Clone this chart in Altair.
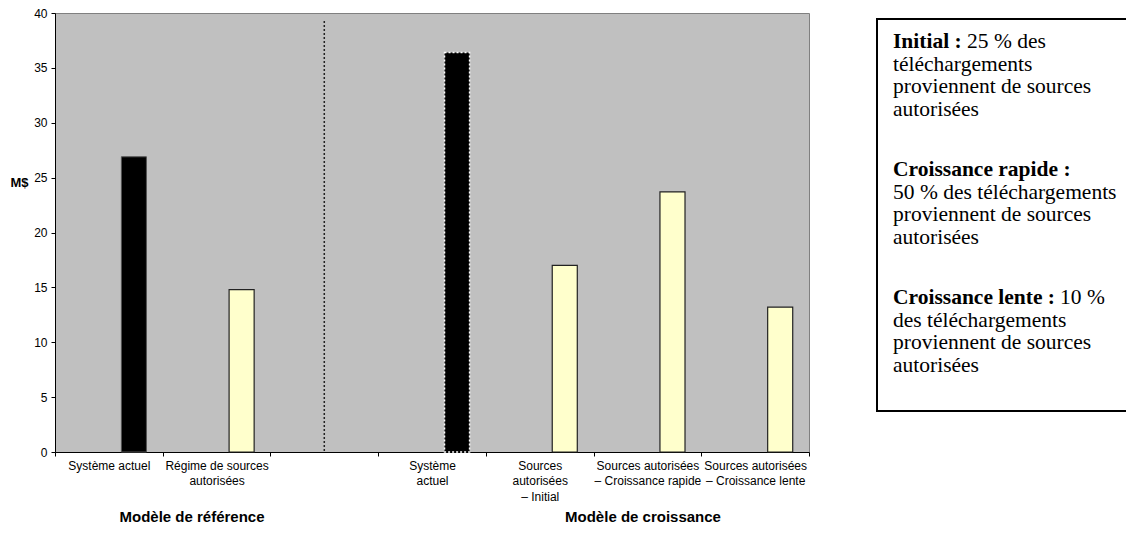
import altair as alt
import pandas as pd

# ---- data ----
categories = [
    "Système actuel",
    "Régime de sources|autorisées",
    " ",
    "Système|actuel",
    "Sources|autorisées|– Initial",
    "Sources autorisées|– Croissance rapide",
    "Sources autorisées|– Croissance lente",
]
values = [26.9, 14.8, None, 36.4, 17.0, 23.7, 13.2]
bar_style = ["black", "yellow", "none", "black_dashed", "yellow", "yellow", "yellow"]
divider_category = [" "]
y_ticks = [0, 5, 10, 15, 20, 25, 30, 35, 40]
y_title = "M$"
group_titles = ["Modèle de référence", "Modèle de croissance"]

note_bold = ["Initial :", "Croissance rapide :", "Croissance lente :"]
note_rest = ["25 % des", "", "10 %"]
note_lines = [
    ["téléchargements", "proviennent de sources", "autorisées"],
    ["50 % des téléchargements", "proviennent de sources", "autorisées"],
    ["des téléchargements", "proviennent de sources", "autorisées"],
]

# ---- layout (pixels) ----
W, H = 754, 439
OX, OY = 55, 13  # plot origin in page coords

df = pd.DataFrame({"cat": categories, "value": values, "style": bar_style, "slot": "c"})

x_scale = alt.Scale(domain=categories, paddingInner=0, paddingOuter=0)
x_enc = alt.X(
    "cat:N",
    sort=categories,
    scale=x_scale,
    axis=alt.Axis(
        title=None,
        labelAngle=0,
        labelExpr="split(datum.label, '|')",
        labelFont="Liberation Sans",
        labelFontSize=12,
        labelColor="black",
        labelLineHeight=15.5,
        labelPadding=4,
        labelOverlap=False,
        labelLimit=200,
        tickBand="extent",
        tickSize=4,
        tickColor="black",
        domainColor="black",
        domainWidth=1,
        labelBaseline="top",
    ),
)
xoff = alt.XOffset("slot:N", scale=alt.Scale(domain=["a", "b", "c"], paddingInner=0, paddingOuter=0.65))
y_enc = alt.Y(
    "value:Q",
    scale=alt.Scale(domain=[0, 40], nice=False, zero=True),
    axis=alt.Axis(
        values=y_ticks,
        grid=False,
        title=y_title,
        titleAngle=0,
        titleFont="Liberation Sans",
        titleFontSize=13,
        titleFontWeight="bold",
        titleAlign="center",
        titleBaseline="middle",
        titleX=19 - OX,
        titleY=182 - OY,
        labelFont="Liberation Sans",
        labelFontSize=12,
        labelColor="black",
        labelPadding=4,
        tickSize=4,
        tickColor="black",
        domainColor="black",
    ),
)

base = alt.Chart(df).encode(x=x_enc, xOffset=xoff, y=y_enc)

yellow = base.transform_filter("datum.style == 'yellow'").mark_bar(
    fill="#FFFFCC", stroke="#222222", strokeWidth=1.2
)
black = base.transform_filter("datum.style == 'black'").mark_bar(
    fill="black", stroke="#555555", strokeWidth=1
)
black_dashed = base.transform_filter("datum.style == 'black_dashed'").mark_bar(
    fill="black", stroke="white", strokeDash=[2, 2], strokeWidth=1.5
)

divider = alt.Chart(pd.DataFrame({"cat": divider_category})).mark_rule(
    color="#222222", strokeDash=[2, 2], strokeWidth=1.5
).encode(x=alt.X("cat:N", sort=categories, scale=x_scale),
         y=alt.value(21 - OY), y2=alt.value(H))

layers = [yellow, black, black_dashed, divider]

# group titles under the axis
for t, cx in zip(group_titles, [192, 643]):
    layers.append(
        alt.Chart(pd.DataFrame({"t": [t]})).mark_text(
            font="Liberation Sans", fontSize=15, fontWeight="bold", color="black",
            align="center", baseline="middle"
        ).encode(text="t:N", x=alt.value(cx - OX), y=alt.value(517 - OY))
    )

# note box
layers.append(
    alt.Chart(pd.DataFrame({"k": [0]})).mark_rect(
        fill="white", stroke="black", strokeWidth=2
    ).encode(x=alt.value(877 - OX), x2=alt.value(1145 - OX), y=alt.value(19 - OY), y2=alt.value(411 - OY))
)

para_y = [42, 170, 298]
line_h = 22.5
text_x = 893
rest_x = [967, None, 1060]
for i in range(3):
    y0 = para_y[i]
    layers.append(
        alt.Chart(pd.DataFrame({"t": [note_bold[i]]})).mark_text(
            font="Liberation Serif", fontSize=21.5, fontWeight="bold", color="black",
            align="left", baseline="middle"
        ).encode(text="t:N", x=alt.value(text_x - OX), y=alt.value(y0 - OY))
    )
    if note_rest[i]:
        layers.append(
            alt.Chart(pd.DataFrame({"t": [note_rest[i]]})).mark_text(
                font="Liberation Serif", fontSize=21.5, color="black",
                align="left", baseline="middle"
            ).encode(text="t:N", x=alt.value(rest_x[i] - OX), y=alt.value(y0 - OY))
        )
    for j, line in enumerate(note_lines[i]):
        layers.append(
            alt.Chart(pd.DataFrame({"t": [line]})).mark_text(
                font="Liberation Serif", fontSize=21.5, color="black",
                align="left", baseline="middle"
            ).encode(text="t:N", x=alt.value(text_x - OX), y=alt.value(y0 + (j + 1) * line_h - OY))
        )

chart = alt.layer(*layers).properties(
    width=W,
    height=H,
    background="white",
    autosize=alt.AutoSizeParams(type="none"),
    padding={"left": OX - 8, "top": OY - 8, "right": 1118 - (OX - 8) - W, "bottom": 519 - (OY - 8) - H},
).configure_view(
    fill="#C0C0C0", stroke="#808080", strokeWidth=1
)

chart.save("out.html", embed_options={"renderer": "svg", "actions": False})
